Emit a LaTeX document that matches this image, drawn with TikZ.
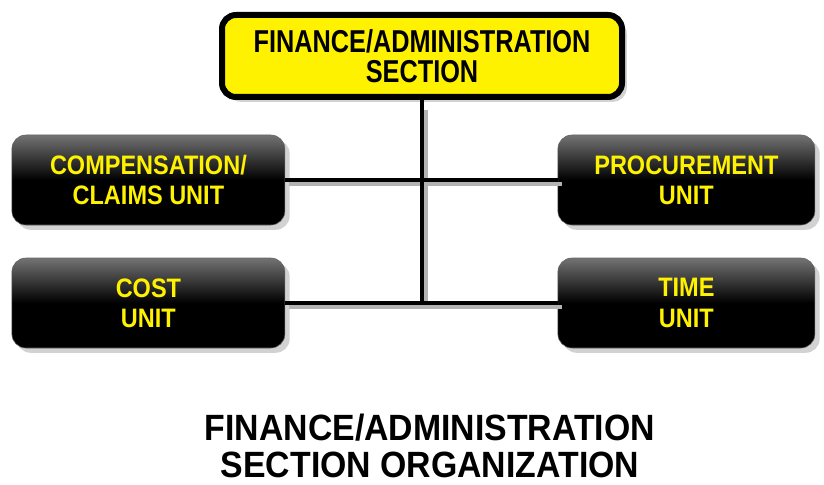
\documentclass[tikz,border=0pt]{standalone}
\usepackage{fontspec}
\usetikzlibrary{shadows,positioning}
\newfontfamily\titlefont[FakeStretch=0.8]{Liberation Sans Bold}
\newfontfamily\captionfont[FakeStretch=0.925]{Liberation Sans Bold}
\newfontfamily\boxfont[FakeStretch=0.88]{Liberation Sans Bold}
\tikzset{>=latex}
\tikzstyle{section}=[rectangle,draw=black,line width=0.15cm,fill=yellow,text=black,rounded corners=0.35cm,align=center,minimum width=10cm,minimum height=2.05cm,font=\titlefont\fontsize{22.5}{21.5}\selectfont,drop shadow={shadow xshift=0.12cm,shadow yshift=-0.12cm,fill=black!35}]
\tikzstyle{unit}=[rectangle,draw=black!60,thin,top color=black!55,bottom color=black,middle color=black,text=yellow,rounded corners=0.35cm,align=center,minimum height=2.25cm,font=\boxfont\fontsize{19}{21.5}\selectfont,drop shadow={shadow xshift=0.12cm,shadow yshift=-0.12cm,fill=black!35}]
\tikzstyle{link}=[line width=0.1cm,black]
\tikzstyle{linkshadow}=[line width=0.1cm,black!30]

\begin{document}
\begin{tikzpicture}
	\def \lx {3.71};
	\def \rx {17.16};
	\def \cx {10.55};
	\def \yone {-4.5};
	\def \ytwo {-7.575};

	\useasboundingbox (0,0) rectangle (20.6,-12.125);

	\node[section] (fin) at (\cx,-1.4) {FINANCE/ADMINISTRATION\\SECTION};
	\node[unit,minimum width=6.825cm] (comp) at (\lx,\yone) {COMPENSATION/\\CLAIMS UNIT};
	\node[unit,minimum width=6.825cm] (cost) at (\lx,\ytwo) {COST\\UNIT};
	\node[unit,minimum width=6.425cm] (proc) at (\rx,\yone) {PROCUREMENT\\UNIT};
	\node[unit,minimum width=6.425cm] (time) at (\rx,\ytwo) {TIME\\UNIT};
	\coordinate (junc) at (\cx,\ytwo);

	% connectors with their shadows
	\draw[linkshadow] ([shift={(0.1,-0.1)}]comp.east) -- ([shift={(0.1,-0.1)}]proc.west);
	\draw[linkshadow] ([shift={(0.1,-0.1)}]cost.east) -- ([shift={(0.1,-0.1)}]time.west);
	\draw[linkshadow] ([shift={(0.1,-0.25)}]fin.south) -- ([shift={(0.1,-0.1)}]junc);
	\draw[link] (fin) -- (junc);
	\draw[link] (comp) -- (proc);
	\draw[link] (cost) -- (time);

	\node[font=\captionfont\fontsize{26}{26}\selectfont,align=center] (title) at (10.75,-11.15) {FINANCE/ADMINISTRATION\\SECTION ORGANIZATION};
\end{tikzpicture}
\end{document}
